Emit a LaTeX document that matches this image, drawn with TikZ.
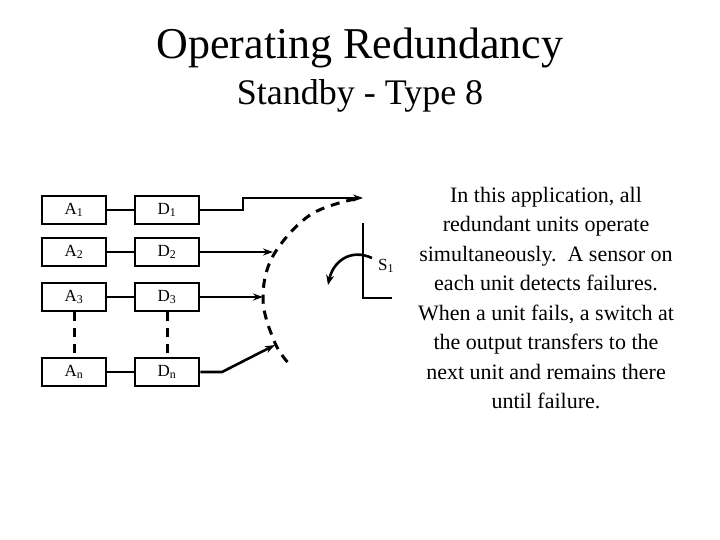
\documentclass[tikz,border=0pt]{standalone}
\usepackage{fontspec}
\setmainfont{Liberation Serif}
\usetikzlibrary{arrows.meta}
\begin{document}
\begin{tikzpicture}[x=1pt,y=-1pt,
  blk/.style={draw,line width=2.6pt,minimum width=64pt,minimum height=28pt,inner sep=0pt,font=\fontsize{17}{20}\selectfont},
  ln/.style={line width=2.6pt},
  arr/.style={ln,-{Stealth[length=10pt,width=7pt]}},
  dsh/.style={line width=3pt,dash pattern=on 9pt off 7pt}]
\useasboundingbox (0,0) rectangle (720,540);
\node[font=\fontsize{44}{48}\selectfont] (t1) at (360,48) {Operating Redundancy};
\node[font=\fontsize{36}{40}\selectfont] (t2) at (360,96) {Standby - Type 8};
\node[blk] (a1) at (74,210) {A\textsubscript{1}};
\node[blk] (d1) at (167,210) {D\textsubscript{1}};
\node[blk] (a2) at (74,252) {A\textsubscript{2}};
\node[blk] (d2) at (167,252) {D\textsubscript{2}};
\node[blk] (a3) at (74,297) {A\textsubscript{3}};
\node[blk] (d3) at (167,297) {D\textsubscript{3}};
\node[blk] (an) at (74,372) {A\textsubscript{n}};
\node[blk] (dn) at (167,372) {D\textsubscript{n}};
\draw[ln] (a1) -- (d1); \draw[ln] (a2) -- (d2); \draw[ln] (a3) -- (d3); \draw[ln] (an) -- (dn);
\draw[dsh] (a3) -- (an); \draw[dsh] (d3) -- (dn);
\coordinate (p1) at (363,198);
\coordinate (p2) at (273,252);
\coordinate (p3) at (263,297);
\coordinate (p4) at (275,345);
\draw[arr] (d1.east) -- (243,210) -- (243,198) -- (p1);
\draw[arr] (d2.east) -- (p2);
\draw[arr] (d3.east) -- (p3);
\draw[arr] (dn.east) -- (222,372) -- (p4);
\draw[dsh] plot[smooth,tension=0.6] coordinates {(355,199) (310,215) (273,256) (263,300) (275,343) (290,365)};
\draw[ln] (363,223) -- (363,298) -- (392,298);
\draw[ln,-{Stealth[length=10pt,width=8pt]}] (372,258) .. controls (350,248) and (333,262) .. (328,285);
\node[font=\fontsize{17}{20}\selectfont] (s1) at (386,266) {S\textsubscript{1}};
\node[font=\fontsize{22}{29.5}\selectfont,align=center] (tx) at (546,298) {In this application, all\\redundant units operate\\simultaneously.\ \ A sensor on\\each unit detects failures.\\When a unit fails, a switch at\\the output transfers to the\\next unit and remains there\\until failure.};
\end{tikzpicture}
\end{document}
